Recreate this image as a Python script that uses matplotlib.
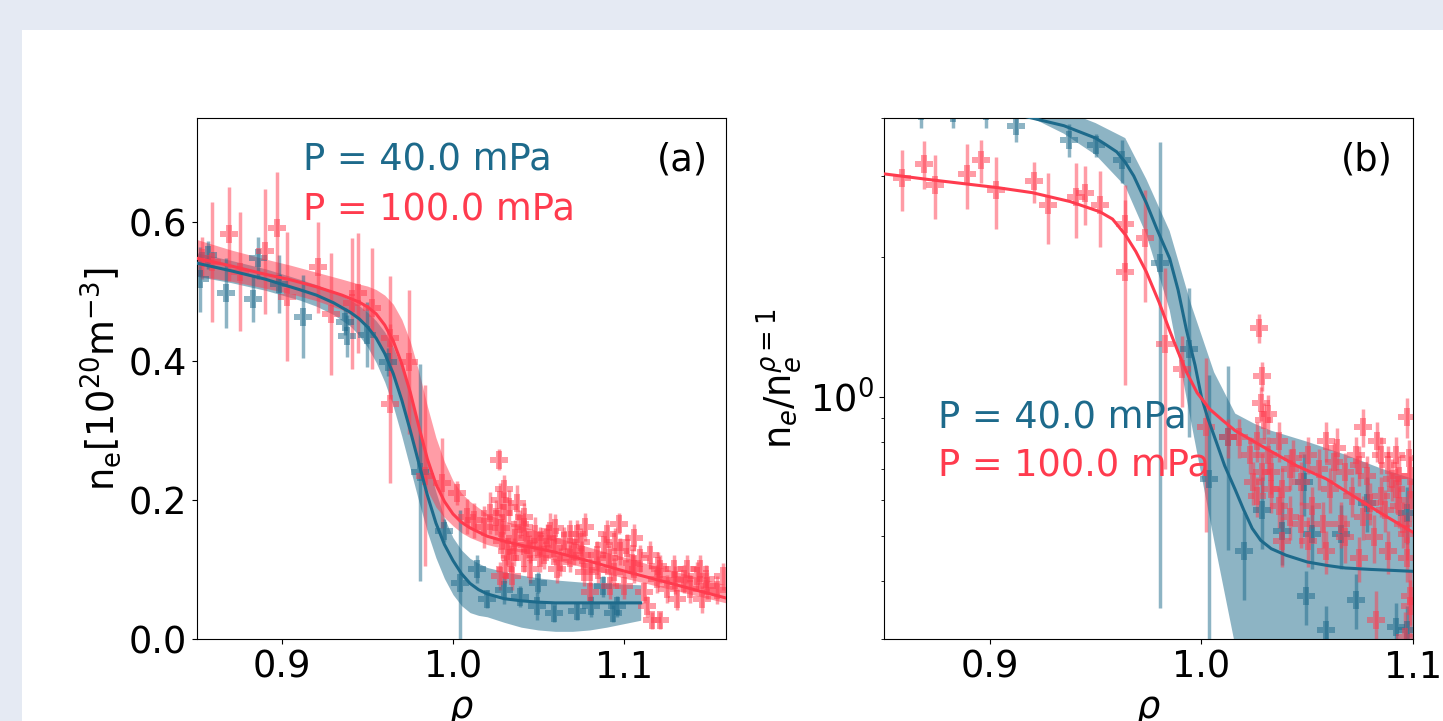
import matplotlib
matplotlib.use("Agg")
import matplotlib.pyplot as plt
from matplotlib.patches import Rectangle
from matplotlib.ticker import NullFormatter

blue = '#1d6a8b'
red = '#ff3b4e'

# -- (a) fitted profiles, n_e [1e20 m^-3] --
rho_fit_lo = [0.85, 0.87, 0.89, 0.91, 0.92, 0.93, 0.94, 0.945, 0.95, 0.955, 0.96, 0.965, 0.97,
              0.975, 0.98, 0.985, 0.99, 0.995, 1.0, 1.005, 1.01, 1.015, 1.02, 1.03, 1.04,
              1.05, 1.06, 1.07, 1.08, 1.09, 1.1, 1.11]
ne_fit_lo = [0.541, 0.530, 0.518, 0.503, 0.495, 0.484, 0.470, 0.461, 0.449, 0.433, 0.411, 0.382,
             0.344, 0.300, 0.253, 0.207, 0.167, 0.136, 0.113, 0.094, 0.080, 0.071, 0.065, 0.058,
             0.055, 0.053, 0.052, 0.052, 0.052, 0.052, 0.052, 0.052]
ne_lo_lower = [0.522, 0.513, 0.502, 0.488, 0.479, 0.467, 0.450, 0.437, 0.420, 0.398, 0.370, 0.335,
               0.292, 0.245, 0.198, 0.154, 0.117, 0.087, 0.064, 0.048, 0.038, 0.034, 0.032, 0.024,
               0.017, 0.013, 0.011, 0.011, 0.013, 0.017, 0.022, 0.027]
ne_lo_upper = [0.556, 0.545, 0.533, 0.518, 0.510, 0.500, 0.488, 0.480, 0.470, 0.458, 0.442, 0.420,
               0.390, 0.350, 0.303, 0.256, 0.212, 0.174, 0.146, 0.128, 0.116, 0.109, 0.103, 0.097,
               0.092, 0.088, 0.085, 0.083, 0.081, 0.080, 0.079, 0.078]

rho_fit_hi = [0.85, 0.87, 0.89, 0.905, 0.92, 0.935, 0.945, 0.95, 0.955, 0.96, 0.965, 0.97,
              0.975, 0.98, 0.985, 0.99, 0.995, 1.0, 1.005, 1.01, 1.02, 1.03, 1.04, 1.06,
              1.08, 1.1, 1.12, 1.14, 1.16]
ne_fit_hi = [0.548, 0.537, 0.525, 0.517, 0.507, 0.495, 0.485, 0.478, 0.468, 0.452, 0.429, 0.396,
             0.355, 0.306, 0.259, 0.223, 0.198, 0.180, 0.168, 0.160, 0.148, 0.141, 0.135, 0.125,
             0.112, 0.098, 0.085, 0.072, 0.059]
ne_hi_lower = [0.523, 0.515, 0.505, 0.497, 0.487, 0.474, 0.460, 0.450, 0.436, 0.413, 0.381, 0.341,
               0.296, 0.251, 0.214, 0.190, 0.175, 0.163, 0.153, 0.146, 0.136, 0.130, 0.125, 0.114,
               0.101, 0.088, 0.076, 0.064, 0.052]
ne_hi_upper = [0.575, 0.560, 0.547, 0.538, 0.528, 0.518, 0.511, 0.508, 0.503, 0.495, 0.482, 0.460,
               0.428, 0.385, 0.335, 0.290, 0.255, 0.228, 0.210, 0.198, 0.180, 0.170, 0.163, 0.147,
               0.132, 0.118, 0.104, 0.091, 0.078]

# -- (a) measured points, 40 mPa --
rho_pts_lo = [0.8517, 0.8566, 0.867, 0.883, 0.886, 0.8983, 0.9124, 0.9378, 0.937, 0.9495, 0.962,
              0.9808, 0.9945, 1.0043, 1.014, 1.0199, 1.0297, 1.0395, 1.0493, 1.05, 1.059, 1.0727,
              1.0806, 1.088, 1.094, 1.096]
ne_pts_lo = [0.518, 0.553, 0.498, 0.490, 0.548, 0.511, 0.464, 0.436, 0.457, 0.438, 0.399,
             0.240, 0.156, 0.081, 0.101, 0.057, 0.071, 0.061, 0.047, 0.081, 0.037, 0.040,
             0.047, 0.076, 0.037, 0.047]
err_pts_lo = [0.047, 0.020, 0.050, 0.033, 0.030, 0.042, 0.060, 0.030, 0.020, 0.047, 0.020,
              0.156, 0.017, 0.105, 0.020, 0.013, 0.020, 0.015, 0.020, 0.015, 0.012, 0.012,
              0.015, 0.015, 0.012, 0.015]

# -- (a) measured points, 100 mPa --
rho_pts_hi = [0.8527, 0.859, 0.869, 0.875, 0.89, 0.8967, 0.903, 0.9212, 0.9284, 0.9407, 0.9446,
              0.9525, 0.9632, 0.9632, 0.974, 0.9837, 0.9935, 1.0023, 1.0267, 1.0297,
              1.0277, 1.0297, 1.0287, 1.0316, 1.0336, 1.0365, 1.0394, 1.0414, 1.0434, 1.0453,
              1.0482, 1.0512, 1.0531, 1.0570, 1.0590, 1.0629, 1.0649, 1.0688, 1.0727, 1.0756,
              1.0776, 1.0805, 1.0844, 1.0883, 1.0912, 1.0942, 1.0971, 1.0981, 1.1000, 1.1020,
              1.1059, 1.1098, 1.1118, 1.1137, 1.1167, 1.1216, 1.1196, 1.1255, 1.1313, 1.1352,
              1.1391, 1.1431, 1.1460, 1.1489, 1.0277, 1.0306, 1.0346, 1.0179, 1.0121, 1.0082,
              1.0218, 1.0375, 1.0414, 1.0805, 1.0766, 1.0512, 1.0609, 1.0688, 1.0903, 1.1059,
              1.1294, 1.1372, 1.1450, 1.1480, 1.1216, 1.1157, 1.0922, 1.0707, 1.0551, 1.0414,
              1.025, 1.033, 1.028, 1.036, 1.045, 1.06, 1.075, 1.085, 1.095, 1.105,
              1.12, 1.13, 1.155, 1.158]
ne_pts_hi = [0.548, 0.543, 0.583, 0.529, 0.558, 0.592, 0.493, 0.535, 0.468, 0.483, 0.498,
             0.476, 0.434, 0.339, 0.399, 0.235, 0.225, 0.210, 0.258, 0.216,
             0.200, 0.181, 0.141, 0.126, 0.116, 0.146, 0.166, 0.116, 0.136, 0.101,
             0.151, 0.141, 0.121, 0.156, 0.131, 0.111, 0.141, 0.116, 0.151, 0.121,
             0.161, 0.096, 0.121, 0.136, 0.116, 0.096, 0.166, 0.126, 0.077, 0.131,
             0.101, 0.116, 0.067, 0.047, 0.027, 0.027, 0.086, 0.072, 0.057, 0.086,
             0.072, 0.091, 0.057, 0.077, 0.091, 0.101, 0.091, 0.161, 0.171, 0.176,
             0.181, 0.196, 0.161, 0.067, 0.096, 0.116, 0.101, 0.151, 0.151, 0.146,
             0.101, 0.101, 0.101, 0.086, 0.101, 0.121, 0.077, 0.126, 0.146, 0.176,
             0.175, 0.190, 0.160, 0.125, 0.130, 0.160, 0.140, 0.100, 0.140, 0.110,
             0.105, 0.085, 0.070, 0.090]
err_pts_hi = [0.030, 0.086, 0.067, 0.086, 0.090, 0.080, 0.093, 0.066, 0.088, 0.094, 0.087,
              0.087, 0.088, 0.115, 0.104, 0.130, 0.065, 0.017, 0.015, 0.020,
              0.025, 0.030, 0.025, 0.020, 0.020, 0.025, 0.020, 0.020, 0.020, 0.020,
              0.025, 0.020, 0.020, 0.025, 0.020, 0.020, 0.020, 0.020, 0.020, 0.020,
              0.020, 0.020, 0.020, 0.020, 0.020, 0.020, 0.015, 0.020, 0.020, 0.020,
              0.020, 0.020, 0.015, 0.015, 0.012, 0.012, 0.020, 0.020, 0.015, 0.020,
              0.020, 0.020, 0.020, 0.020, 0.020, 0.020, 0.020, 0.030, 0.025, 0.025,
              0.030, 0.025, 0.020, 0.015, 0.020, 0.020, 0.020, 0.020, 0.020, 0.020,
              0.020, 0.020, 0.020, 0.020, 0.020, 0.020, 0.020, 0.020, 0.020, 0.020,
              0.025, 0.025, 0.020, 0.020, 0.020, 0.020, 0.020, 0.020, 0.020, 0.020,
              0.020, 0.020, 0.020, 0.020]

# -- (b) normalised fits --
rho_nfit_lo = [0.85, 0.88, 0.91, 0.935, 0.95, 0.955, 0.96, 0.964, 0.968, 0.974, 0.979, 0.985,
               0.989, 0.993, 0.997, 1.0, 1.003, 1.007, 1.011, 1.016, 1.02, 1.024, 1.028,
               1.033, 1.04, 1.05, 1.06, 1.068, 1.08, 1.1]
nn_fit_lo = [4.45, 4.30, 4.10, 3.85, 3.62, 3.50, 3.38, 3.21, 3.00, 2.62, 2.30, 1.99,
             1.70, 1.39, 1.17, 1.00, 0.90, 0.80, 0.71, 0.63, 0.57, 0.52, 0.49,
             0.47, 0.455, 0.44, 0.432, 0.427, 0.424, 0.42]
rho_nband_lo = [0.85, 0.9, 0.92, 0.935, 0.95, 0.964, 0.974, 0.985, 0.995, 1.006, 1.016, 1.025,
                1.033, 1.05, 1.068, 1.085, 1.1]
nn_lo_upper = [5.2, 4.9, 4.6, 4.15, 3.9, 3.62, 2.95, 2.28, 1.59, 1.13, 0.92, 0.875,
               0.845, 0.80, 0.75, 0.70, 0.665]
nn_lo_lower = [4.5, 4.2, 4.0, 3.7, 3.33, 2.85, 2.24, 1.54, 0.89, 0.49, 0.29, 0.2,
               0.15, 0.12, 0.12, 0.12, 0.12]

rho_nfit_hi = [0.85, 0.87, 0.9035, 0.92, 0.938, 0.952, 0.958, 0.964, 0.969, 0.974, 0.98, 0.985,
               0.989, 0.993, 0.998, 1.004, 1.01, 1.016, 1.025, 1.033, 1.045, 1.059, 1.072,
               1.085, 1.1]
nn_fit_hi = [3.03, 2.95, 2.83, 2.76, 2.64, 2.51, 2.42, 2.24, 2.06, 1.86, 1.60, 1.39,
             1.25, 1.13, 1.02, 0.94, 0.89, 0.845, 0.80, 0.762, 0.71, 0.665, 0.61,
             0.56, 0.51]

# -- (b) normalised points --
rho_npts_lo = [0.8673, 0.8828, 0.8984, 0.9122, 0.9372, 0.950, 0.9623, 0.9804, 0.9943, 1.0038,
               1.0124, 1.0202, 1.0288, 1.0383, 1.0487, 1.0496, 1.0591, 1.0729, 1.0781, 1.0919,
               1.0971, 1.0971, 1.0521, 1.0660]
nn_npts_lo = [4.15, 4.10, 4.15, 3.85, 3.59, 3.50, 3.24, 1.95, 1.27, 0.665,
              0.817, 0.464, 0.570, 0.514, 0.654, 0.371, 0.313, 0.365, 0.590, 0.318,
              0.313, 0.560, 0.505, 0.505]
err_npts_lo = [0.35, 0.30, 0.35, 0.30, 0.30, 0.20, 0.35, 1.60, 0.45, 0.45,
               0.35, 0.10, 0.10, 0.08, 0.10, 0.05, 0.04, 0.05, 0.08, 0.04,
               0.04, 0.08, 0.08, 0.08]

rho_npts_hi = [0.8586, 0.869, 0.8742, 0.8894, 0.8958, 0.9027, 0.9208, 0.9277, 0.9407, 0.945,
               0.9519, 0.964, 0.964, 0.9735, 0.983, 0.9908, 1.002, 1.027, 1.0288,
               1.028, 1.0297, 1.0262, 1.0314, 1.0288, 1.0331, 1.0366, 1.0383, 1.0418, 1.0470,
               1.0504, 1.0521, 1.0573, 1.0608, 1.0642, 1.0677, 1.0711, 1.0729, 1.0763, 1.0781,
               1.0815, 1.0832, 1.0867, 1.0884, 1.0919, 1.0953, 1.0971, 1.0971, 1.0988, 1.0824,
               1.0988, 1.0176, 1.0124, 1.0228, 1.0331, 1.0418, 1.0504, 1.0591, 1.0677, 1.0763,
               1.0850, 1.0936, 1.0962, 1.0988,
               1.0366, 1.0435, 1.0556, 1.0625, 1.0746, 1.085, 1.0901, 1.0936, 1.0988, 1.0971,
               1.0884, 1.0746, 1.0660, 1.0470, 1.0383, 1.0262, 1.0245, 1.0314, 1.0591, 1.0798,
               1.0919, 1.0979]
nn_npts_hi = [2.97, 3.19, 2.87, 3.03, 3.24, 2.80, 2.92, 2.59, 2.70, 2.75,
              2.59, 2.36, 1.86, 2.20, 1.30, 1.15, 0.86, 1.41, 1.11,
              0.969, 0.890, 0.803, 0.750, 0.688, 0.632, 0.580, 0.489, 0.700, 0.654,
              0.750, 0.580, 0.532, 0.632, 0.776, 0.688, 0.610, 0.750, 0.860, 0.676,
              0.497, 0.803, 0.570, 0.712, 0.632, 0.532, 0.905, 0.448, 0.371, 0.330,
              0.676, 0.817, 0.817, 0.750, 0.688, 0.551, 0.489, 0.464, 0.497, 0.551,
              0.610, 0.676, 0.303, 0.353,
              0.803, 0.737, 0.700, 0.725, 0.712, 0.750, 0.665, 0.580, 0.600, 0.505,
              0.464, 0.448, 0.532, 0.532, 0.632, 0.610, 0.654, 0.920, 0.803, 0.590,
              0.750, 0.737]
err_npts_hi = [0.45, 0.38, 0.45, 0.48, 0.35, 0.50, 0.30, 0.45, 0.50, 0.40,
               0.48, 0.50, 0.80, 0.60, 0.60, 0.20, 0.35, 0.10, 0.08,
               0.08, 0.08, 0.08, 0.07, 0.07, 0.07, 0.06, 0.06, 0.07, 0.07,
               0.07, 0.06, 0.06, 0.07, 0.08, 0.07, 0.06, 0.07, 0.08, 0.07,
               0.06, 0.08, 0.06, 0.07, 0.07, 0.06, 0.09, 0.05, 0.05, 0.05,
               0.07, 0.08, 0.08, 0.07, 0.07, 0.06, 0.06, 0.05, 0.06, 0.06,
               0.06, 0.07, 0.04, 0.05,
               0.08, 0.07, 0.07, 0.07, 0.07, 0.07, 0.07, 0.06, 0.06, 0.06,
               0.05, 0.05, 0.06, 0.06, 0.07, 0.06, 0.07, 0.09, 0.08, 0.06,
               0.07, 0.07]

labels = ['P = 40.0 mPa', 'P = 100.0 mPa']

plt.rcParams['font.family'] = 'DejaVu Sans'
plt.rcParams['font.size'] = 26.5

fig = plt.figure(figsize=(14.43, 7.21), dpi=100, facecolor='#e5eaf3')
# white page area, the frame is cut at right and bottom
fig.patches.append(Rectangle((22 / 1443, 0), 1, 691 / 721, transform=fig.transFigure,
                             facecolor='white', edgecolor='none', zorder=-10))

ax1 = fig.add_axes([197 / 1443, 82 / 721, 529 / 1443, 521 / 721])
ax2 = fig.add_axes([884 / 1443, 82 / 721, 529 / 1443, 521 / 721])

ebkw = dict(fmt='P', ms=13, mew=0, alpha=0.5, elinewidth=2.5, capsize=0, zorder=2)

# === (a) ===
ax1.fill_between(rho_fit_lo, ne_lo_lower, ne_lo_upper, color=blue, alpha=0.5, lw=0, zorder=1)
ax1.fill_between(rho_fit_hi, ne_hi_lower, ne_hi_upper, color=red, alpha=0.5, lw=0, zorder=1)
ax1.errorbar(rho_pts_lo, ne_pts_lo, yerr=err_pts_lo, color=blue, **ebkw)
ax1.errorbar(rho_pts_hi, ne_pts_hi, yerr=err_pts_hi, color=red, **ebkw)
ax1.plot(rho_fit_lo, ne_fit_lo, color=blue, lw=2.2, zorder=3)
ax1.plot(rho_fit_hi, ne_fit_hi, color=red, lw=2.2, zorder=3)
ax1.set_xlim(0.85, 1.16)
ax1.set_ylim(0, 0.75)
ax1.set_xticks([0.9, 1.0, 1.1])
ax1.set_yticks([0.0, 0.2, 0.4, 0.6])
ax1.set_xlabel(r'$\rho$')
ax1.set_ylabel(r'n$_\mathrm{e}$[10$^{20}$m$^{-3}$]')
ax1.text(0.2, 0.92, labels[0], color=blue, transform=ax1.transAxes, va='center')
ax1.text(0.2, 0.823, labels[1], color=red, transform=ax1.transAxes, va='center')
ax1.text(0.966, 0.92, '(a)', ha='right', va='center', transform=ax1.transAxes)

# === (b) ===
ax2.set_yscale('log')
ax2.fill_between(rho_nband_lo, nn_lo_lower, nn_lo_upper, color=blue, alpha=0.5, lw=0, zorder=1)
ax2.errorbar(rho_npts_lo, nn_npts_lo, yerr=err_npts_lo, color=blue, **ebkw)
ax2.errorbar(rho_npts_hi, nn_npts_hi, yerr=err_npts_hi, color=red, **ebkw)
ax2.plot(rho_nfit_lo, nn_fit_lo, color=blue, lw=2.2, zorder=3)
ax2.plot(rho_nfit_hi, nn_fit_hi, color=red, lw=2.2, zorder=3)
ax2.set_xlim(0.85, 1.1)
ax2.set_ylim(0.3, 4.0)
ax2.set_xticks([0.9, 1.0, 1.1])
ax2.yaxis.set_minor_formatter(NullFormatter())
ax2.set_xlabel(r'$\rho$')
ax2.set_ylabel(r'n$_e$/n$_e^{\rho=1}$')
ax2.text(0.102, 0.424, labels[0], color=blue, transform=ax2.transAxes, va='center', zorder=5)
ax2.text(0.102, 0.332, labels[1], color=red, transform=ax2.transAxes, va='center', zorder=5)
ax2.text(0.962, 0.92, '(b)', ha='right', va='center', transform=ax2.transAxes)

fig.savefig('out.png', dpi=100, facecolor=fig.get_facecolor())
